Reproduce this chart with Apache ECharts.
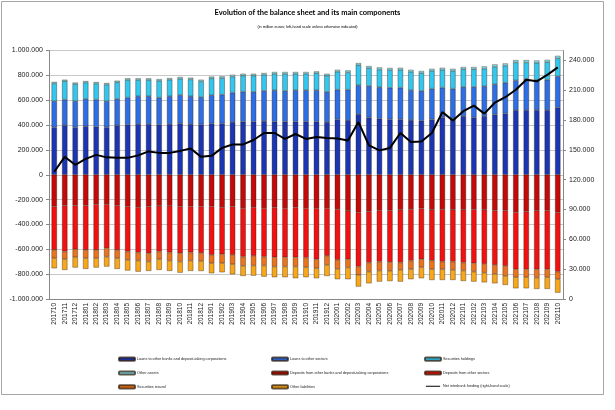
<!DOCTYPE html>
<html><head><meta charset="utf-8">
<script src="https://cdn.jsdelivr.net/npm/echarts@6/dist/echarts.min.js"></script>
<style>html,body{margin:0;padding:0;background:#fff}#c{width:615px;height:410px}</style>
</head><body><div id="c"></div>
<script>
const categories = ["201710","201711","201712","201801","201802","201803","201804","201805","201806","201807","201808","201809","201810","201811","201812","201901","201902","201903","201904","201905","201906","201907","201908","201909","201910","201911","201912","202001","202002","202003","202004","202005","202006","202007","202008","202009","202010","202011","202012","202101","202102","202103","202104","202105","202106","202107","202108","202109","202110"];

const loansBanks = [381000,397000,381000,390000,386000,381000,397000,402000,408000,408000,402000,408000,413000,408000,405000,413000,413000,424000,427000,427000,432000,427000,427000,427000,427000,427000,424000,445000,440000,488000,461000,451000,445000,445000,440000,435000,445000,461000,453000,472000,461000,472000,485000,493000,520000,520000,520000,520000,541000];
const loansOther = [211000,208000,211000,220000,219000,211000,213000,219000,224000,224000,219000,224000,227000,224000,220000,227000,232000,237000,242000,240000,243000,253000,248000,253000,253000,253000,243000,240000,245000,232000,254000,253000,255000,256000,240000,240000,248000,240000,240000,235000,246000,240000,243000,248000,240000,253000,245000,245000,251000];
const securitiesHoldings = [143000,148000,138000,132000,129000,134000,134000,142000,131000,131000,136000,133000,133000,135000,126000,136000,133000,129000,129000,131000,129000,132000,137000,132000,132000,137000,131000,144000,139000,162000,143000,143000,143000,143000,148000,143000,143000,143000,143000,142000,142000,142000,142000,137000,144000,131000,136000,141000,145000];
const otherAssets = [12000,12000,12000,12000,12000,12000,13000,13000,13000,13000,13000,13000,14000,14000,14000,14000,14000,15000,15000,15000,15000,15000,15000,15000,15000,15000,15000,16000,16000,17000,17000,17000,17000,17000,17000,17000,17000,17000,17000,18000,18000,18000,18000,18000,19000,19000,19000,19000,20000];
const depositsBanks = [-255000,-247000,-247000,-247000,-237000,-237000,-247000,-255000,-261000,-255000,-250000,-250000,-255000,-255000,-255000,-255000,-261000,-255000,-269000,-261000,-269000,-263000,-269000,-263000,-269000,-269000,-269000,-277000,-290000,-304000,-296000,-288000,-288000,-282000,-277000,-271000,-282000,-277000,-282000,-282000,-277000,-282000,-288000,-288000,-301000,-296000,-290000,-288000,-304000];
const depositsOther = [-350000,-371000,-353000,-358000,-368000,-354000,-358000,-363000,-365000,-377000,-368000,-376000,-377000,-371000,-375000,-390000,-379000,-390000,-390000,-392000,-390000,-401000,-395000,-401000,-398000,-411000,-384000,-408000,-390000,-435000,-411000,-411000,-415000,-425000,-414000,-409000,-409000,-422000,-417000,-425000,-435000,-436000,-438000,-446000,-460000,-465000,-471000,-473000,-476000];
const securitiesIssued = [-67000,-62000,-64000,-67000,-67000,-68000,-67000,-67000,-65000,-67000,-62000,-65000,-67000,-65000,-65000,-67000,-72000,-75000,-75000,-78000,-72000,-75000,-75000,-75000,-78000,-73000,-73000,-73000,-67000,-67000,-73000,-72000,-70000,-59000,-70000,-65000,-70000,-62000,-67000,-64000,-68000,-70000,-72000,-81000,-64000,-64000,-67000,-64000,-61000];
const otherLiabilities = [-81000,-86000,-83000,-86000,-75000,-80000,-86000,-86000,-89000,-75000,-86000,-83000,-89000,-83000,-80000,-81000,-73000,-81000,-81000,-81000,-89000,-86000,-86000,-94000,-80000,-80000,-89000,-83000,-94000,-94000,-94000,-89000,-83000,-94000,-80000,-88000,-86000,-86000,-81000,-84000,-80000,-78000,-76000,-72000,-89000,-89000,-91000,-94000,-108000];
const netInterbank = [128000,143000,135000,141000,145000,142500,142000,142000,144500,148500,147000,147000,149000,151500,143000,144000,152000,155500,155500,160000,167000,167000,161000,166000,161000,163000,162000,161500,159500,178000,154500,149500,152000,167000,158000,158500,167000,188000,179500,189000,194500,186500,197500,203000,210500,220500,219000,225500,233000];

const leftTicks = [-1000000,-800000,-600000,-400000,-200000,0,200000,400000,600000,800000,1000000];
const rightTicks = [0,30000,60000,90000,120000,150000,180000,210000,240000];

const names = {
  lb:"Loans to other banks and deposit-taking corporations",
  lo:"Loans to other sectors",
  sh:"Securities holdings",
  oa:"Other assets",
  db:"Deposits from other banks and deposit-taking corporations",
  dos:"Deposits from other sectors",
  si:"Securities issued",
  ol:"Other liabilities",
  ni:"Net interbank funding (right-hand scale)"
};
const fmt = v => {
  const s = Math.abs(Math.round(v)).toString().replace(/\B(?=(\d{3})+(?!\d))/g, ".");
  return (v < 0 ? "-" : "") + s;
};
const border = {borderColor:"rgba(40,20,0,0.7)", borderWidth:0.5};
function bar(name, data, color){
  return {name, type:"bar", stack:"bs", data, barWidth:5.4, itemStyle:Object.assign({color}, border), emphasis:{disabled:true}};
}
const chart = echarts.init(document.getElementById("c"), null, {renderer:"canvas"});
const legendBase = {orient:"vertical", top:356.5, itemWidth:16, itemHeight:3.2, itemGap:8.7, padding:0,
  textStyle:{fontSize:3.8, lineHeight:3.8, color:"#222", fontFamily:"Liberation Sans", padding:[0,0,0,-3]}, selectedMode:false};
const lineIcon = "path://M0,0L0.01,0 M0,1.2H16V2.4H0Z M0,3.6L0.01,3.6";
chart.setOption({
  animation:false,
  backgroundColor:"#fff",
  textStyle:{fontFamily:"Liberation Sans"},
  title:[
    {text:"Evolution of the balance sheet and its main components", left:"center", top:4,
     textStyle:{fontSize:7.5, fontWeight:"bold", color:"#000", fontFamily:"Lato"}},
    {text:"(in million euros; left-hand scale unless otherwise indicated)", left:"center", top:20,
     textStyle:{fontSize:3.8, fontWeight:"normal", color:"#000"}}
  ],
  graphic:[{type:"rect", shape:{x:1.5,y:1.5,width:602,height:393}, style:{fill:null, stroke:"#a6a6a6", lineWidth:1}, silent:true}],
  grid:{left:49, right:52, top:50.5, bottom:111},
  legend:[
    Object.assign({left:118, data:[names.lb, names.oa, names.si]}, legendBase),
    Object.assign({left:271, data:[names.lo, names.db, names.ol]}, legendBase),
    Object.assign({left:424, data:[names.sh, names.dos, {name:names.ni, icon:lineIcon, itemStyle:{color:"#000", borderWidth:0}}]}, legendBase)
  ],
  xAxis:{type:"category", data:categories,
    axisLine:{onZero:false, lineStyle:{color:"#888"}},
    axisTick:{show:false},
    axisLabel:{rotate:90, fontSize:6.5, color:"#222", interval:0, margin:4}},
  yAxis:[
    {type:"value", min:leftTicks[0], max:leftTicks[leftTicks.length-1], interval:200000,
     axisLine:{show:true, lineStyle:{color:"#888"}},
     axisTick:{show:true, length:3, lineStyle:{color:"#888"}},
     splitLine:{lineStyle:{color:"#c8c8c8", width:1}},
     axisLabel:{fontSize:7, color:"#222", formatter:fmt, margin:6}},
    {type:"value", min:rightTicks[0], max:250000, interval:30000, position:"right",
     axisLine:{show:true, lineStyle:{color:"#888"}},
     axisTick:{show:true, length:3, lineStyle:{color:"#888"}},
     splitLine:{show:false},
     axisLabel:{fontSize:7, color:"#222", formatter:fmt, showMaxLabel:false, margin:6}}
  ],
  series:[
    bar(names.lb, loansBanks, "#1b36b2"),
    bar(names.lo, loansOther, "#2d6ee4"),
    bar(names.sh, securitiesHoldings, "#33c6ef"),
    bar(names.oa, otherAssets, "#86e6f4"),
    bar(names.db, depositsBanks, "#c20a0a"),
    bar(names.dos, depositsOther, "#f01212"),
    bar(names.si, securitiesIssued, "#ea741e"),
    bar(names.ol, otherLiabilities, "#f6a71c"),
    {name:names.ni, type:"line", yAxisIndex:1, data:netInterbank, symbol:"none",
     lineStyle:{color:"#000", width:2}, itemStyle:{color:"#000"}, emphasis:{disabled:true}, z:5}
  ]
});
</script></body></html>
